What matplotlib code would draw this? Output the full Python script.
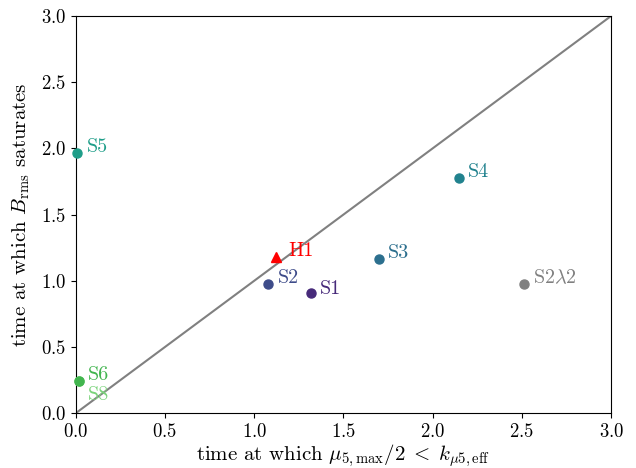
import matplotlib
matplotlib.use("Agg")
import matplotlib.pyplot as plt
import numpy as np

plt.rcParams['font.family'] = 'serif'
plt.rcParams['font.serif'] = ['cmr10', 'DejaVu Serif']
plt.rcParams['mathtext.fontset'] = 'cm'
plt.rcParams['axes.formatter.use_mathtext'] = True
plt.rcParams['axes.unicode_minus'] = False

names = ['S8', 'S1', 'S2', 'S3', 'S4', 'S5', 'S6', 'S2$\\lambda$2']
x_vals = [0.02, 1.32, 1.08, 1.70, 2.145, 0.01, 0.02, 2.513]
y_vals = [0.24, 0.905, 0.975, 1.165, 1.775, 1.966, 0.24, 0.975]
colors = ['#7ad37a', '#472a7a', '#3e4c8a', '#2c6f8e', '#21828e', '#1f9e89', '#42b54f', '#808080']
label_dy = [-0.10, 0.035, 0.045, 0.045, 0.045, 0.045, 0.045, 0.045]

h1_name = 'H1'
h1_x = 1.123
h1_y = 1.18

diag = [0.0, 3.0]

fig = plt.figure(figsize=(6.36, 4.68), dpi=100)
ax = fig.add_axes([0.119, 0.117, 0.842, 0.849])

ax.plot(diag, diag, color='gray', lw=1.5, zorder=1)

for n, xv, yv, c, dy in zip(names, x_vals, y_vals, colors, label_dy):
    ax.plot(xv, yv, 'o', color=c, ms=6.5, clip_on=False, zorder=3)
    ax.text(xv + 0.05, yv + dy, n, color=c, fontsize=14.5, va='center', ha='left')

ax.plot(h1_x, h1_y, '^', color='red', ms=7, zorder=3)
ax.text(h1_x + 0.07, h1_y + 0.045, h1_name, color='red', fontsize=14.5, va='center', ha='left')

ax.set_xlim(0, 3)
ax.set_ylim(0, 3)
ax.set_xticks(np.arange(0, 3.01, 0.5))
ax.set_yticks(np.arange(0, 3.01, 0.5))
ax.tick_params(labelsize=13.5)
ax.set_xlabel(r'time at which $\mu_{5,\rm max}/2\;<\;k_{\mu5,\rm eff}$', fontsize=15, labelpad=1)
ax.set_ylabel(r'time at which $B_{\rm rms}$ saturates', fontsize=15, labelpad=6)

fig.savefig('out.png', dpi=100)
